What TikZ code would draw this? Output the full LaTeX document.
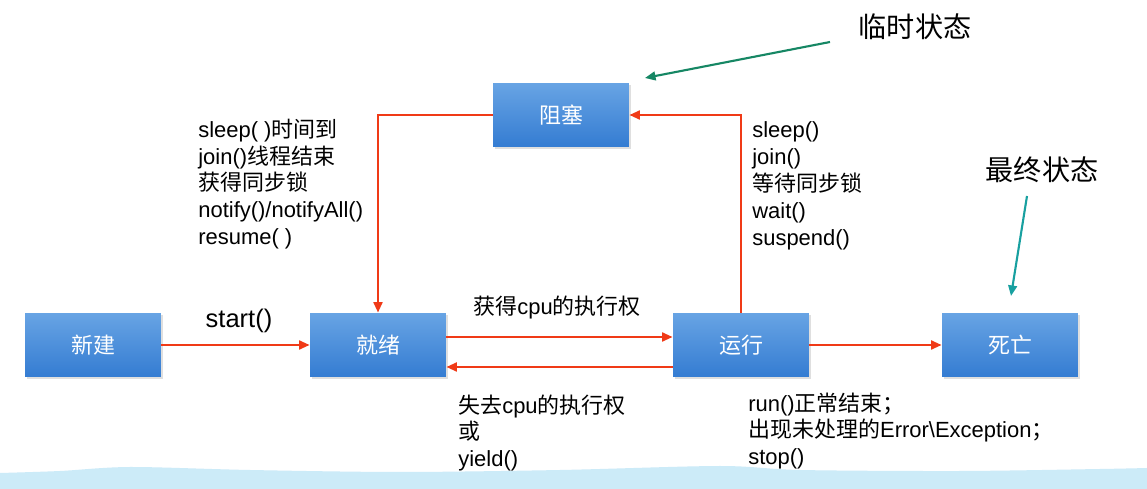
\documentclass[tikz,border=0pt]{standalone}
\usepackage{fontspec}
\setmainfont{Liberation Sans}
\newfontfamily\cjk{Noto Sans CJK SC}
\usetikzlibrary{arrows.meta,shadows}
\newcommand\zhs[1]{{\cjk #1}}
\definecolor{redline}{RGB}{240,58,23}
\definecolor{boxtop}{RGB}{104,164,228}
\definecolor{boxbot}{RGB}{52,124,210}
\definecolor{greenarr}{RGB}{22,135,100}
\definecolor{tealarr}{RGB}{24,160,160}
\definecolor{band}{RGB}{204,235,248}
\tikzset{
  statebox/.style={rectangle, minimum width=2.72cm, minimum height=1.28cm,
    top color=boxtop, bottom color=boxbot, draw=none, text=white,
    font=\cjk\fontsize{12.5}{15}\selectfont,
    drop shadow={opacity=0.25, shadow xshift=1.2pt, shadow yshift=-1.2pt}},
  flow/.style={draw=redline, line width=1.4pt, -{Triangle[length=6pt,width=5pt]}},
  note/.style={align=left, inner sep=0pt, anchor=west,
    font=\fontsize{12.5}{15.3}\selectfont},
  big/.style={inner sep=0pt, font=\cjk\fontsize{16}{19}\selectfont},
}
\begin{document}
\begin{tikzpicture}[x=0.02cm, y=-0.02cm]
\useasboundingbox[fill=white] (0,0) rectangle (1147,489);
% bottom band
\fill[band] plot[smooth] coordinates {(0,473) (60,471) (130,467) (250,470) (400,472) (560,470) (720,466) (800,470) (960,471) (1100,469) (1147,468)} -- (1147,489) -- (0,489) -- cycle;

\node[statebox] (new) at (93,345) {新建};
\node[statebox] (ready) at (378,345) {就绪};
\node[statebox] (run) at (741,345) {运行};
\node[statebox] (dead) at (1010,345) {死亡};
\node[statebox] (block) at (561,115) {阻塞};

\draw[flow] (new) -- (ready);
\draw[flow] ([yshift=0.16cm]ready.east) -- ([yshift=0.16cm]run.west);
\draw[flow] ([yshift=-0.44cm]run.west) -- ([yshift=-0.44cm]ready.east);
\draw[flow] (run) -- (dead);
\draw[flow] (run.north) |- (block.east);
\draw[flow] (block.west) -| (ready.north);

\node[inner sep=0pt, font=\fontsize{14.5}{17}\selectfont] (lstart) at (239,321) {start()};
\node[inner sep=0pt, font=\fontsize{12.5}{15}\selectfont] (lget) at (557,308) {\zhs{获得}cpu\zhs{的执行权}};

\node[note] (lback) at (198,184) {sleep( )\zhs{时间到}\\join()\zhs{线程结束}\\\zhs{获得同步锁}\\notify()/notifyAll()\\resume( )};
\node[note] (lto) at (752,186) {sleep()\\join()\\\zhs{等待同步锁}\\wait()\\suspend()};
\node[note] (llose) at (458,433) {\zhs{失去}cpu\zhs{的执行权}\\\zhs{或}\\yield()};
\node[note] (lend) at (748,431) {run()\zhs{正常结束；}\\\zhs{出现未处理的}Error\textbackslash Exception\zhs{；}\\stop()};

\node[big] (temp) at (915,27) {临时状态};
\node[big] (final) at (1042,170) {最终状态};
\coordinate (gs) at (830,42);
\coordinate (ge) at (645,78);
\coordinate (ts) at (1027,196);
\coordinate (te) at (1011,296);
\draw[greenarr, line width=1.2pt, -{Triangle[length=6pt,width=5pt]}] (gs) -- (ge);
\draw[tealarr, line width=1.2pt, -{Triangle[length=6pt,width=5pt]}] (ts) -- (te);
\end{tikzpicture}
\end{document}
